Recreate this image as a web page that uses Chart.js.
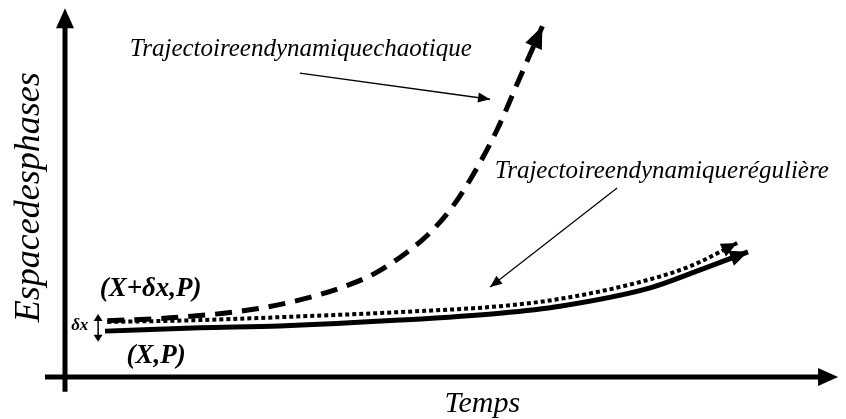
<!DOCTYPE html>
<html>
<head>
<meta charset="utf-8">
<script src="https://cdn.jsdelivr.net/npm/chart.js@4.4.1/dist/chart.umd.min.js"></script>
<style>
  body { margin: 0; background: #fff; }
  #wrap { width: 846px; height: 419px; position: relative; }
</style>
</head>
<body>
<div id="wrap"><canvas id="phaseChart"></canvas></div>
<script>
// Trajectories (time, phase space), abstract units 0..100
const solidTime   = [5.2, 17.5, 27.9, 43.5, 56.5, 64.3, 76.0, 82.5, 88.7];
const solidPhase  = [12.5, 13.4, 13.9, 15.5, 17.4, 19.3, 24.3, 29.2, 34.1];

const dottedTime  = [5.5, 17.5, 27.9, 43.5, 56.5, 64.3, 74.7, 81.2, 87.3];
const dottedPhase = [15.0, 15.5, 16.3, 17.7, 19.3, 21.3, 25.9, 30.2, 36.5];

const dashedTime  = [5.5, 14.9, 24.0, 30.5, 36.1, 40.3, 43.9, 47.1, 50.0, 52.6, 56.1, 59.1, 62.0];
const dashedPhase = [15.3, 16.3, 18.3, 21.0, 24.5, 28.3, 33.2, 38.7, 45.5, 53.7, 67.3, 81.7, 95.6];

// pointer arrows from the labels to the curves
const chaosPointerTime  = [30.5, 55.2];
const chaosPointerPhase = [82.8, 75.7];
const regPointerTime    = [71.7, 55.2];
const regPointerPhase   = [51.5, 24.5];

// axes extents
const timeAxisFrom = -2.6, timeAxisTo = 100.4;
const phaseAxisFrom = -4, phaseAxisTo = 100.5;

function pts(xs, ys) {
  return xs.map((x, i) => ({ x: x, y: ys[i] }));
}

// draw a filled triangle at (x, y) pointing along angle a
function arrowHead(ctx, x, y, a, len, half) {
  ctx.save();
  ctx.translate(x, y);
  ctx.rotate(a);
  ctx.beginPath();
  ctx.moveTo(0, 0);
  ctx.lineTo(-len, -half);
  ctx.lineTo(-len, half);
  ctx.closePath();
  ctx.fillStyle = '#000';
  ctx.fill();
  ctx.restore();
}

const decorations = {
  id: 'decorations',
  beforeDatasetsDraw(chart) {
    const ctx = chart.ctx;
    const xs = chart.scales.x, ys = chart.scales.y;
    const x0 = xs.getPixelForValue(0), y0 = ys.getPixelForValue(0);
    const xEnd = xs.getPixelForValue(timeAxisTo), yEnd = ys.getPixelForValue(phaseAxisTo);

    ctx.save();
    ctx.strokeStyle = '#000';
    ctx.lineWidth = 5;
    ctx.lineCap = 'butt';
    // horizontal axis
    ctx.beginPath();
    ctx.moveTo(xs.getPixelForValue(timeAxisFrom), y0);
    ctx.lineTo(xEnd - 15, y0);
    ctx.stroke();
    // vertical axis
    ctx.beginPath();
    ctx.moveTo(x0, ys.getPixelForValue(phaseAxisFrom));
    ctx.lineTo(x0, yEnd + 15);
    ctx.stroke();
    ctx.restore();
    arrowHead(ctx, xEnd, y0, 0, 20, 9);
    arrowHead(ctx, x0, yEnd, -Math.PI / 2, 20, 9);
  },
  afterDatasetsDraw(chart) {
    const ctx = chart.ctx;
    const xs = chart.scales.x, ys = chart.scales.y;

    // arrow heads at the end of each dataset
    chart.data.datasets.forEach((ds, i) => {
      if (!ds.head) return;
      const meta = chart.getDatasetMeta(i);
      const n = meta.data.length;
      const a = meta.data[n - 2], b = meta.data[n - 1];
      const ang = Math.atan2(b.y - a.y, b.x - a.x);
      arrowHead(ctx, b.x, b.y, ang, ds.head[0], ds.head[1]);
    });

    // delta-x double arrow
    const dx = xs.getPixelForValue(4.3);
    const dTop = ys.getPixelForValue(17.2), dBot = ys.getPixelForValue(9.6);
    ctx.save();
    ctx.strokeStyle = '#000';
    ctx.lineWidth = 1.5;
    ctx.beginPath();
    ctx.moveTo(dx, dTop + 5);
    ctx.lineTo(dx, dBot - 5);
    ctx.stroke();
    ctx.restore();
    arrowHead(ctx, dx, dTop, -Math.PI / 2, 7, 4.5);
    arrowHead(ctx, dx, dBot, Math.PI / 2, 7, 4.5);

    // texts
    const serif = '"Liberation Serif", "DejaVu Serif", serif';
    ctx.save();
    ctx.fillStyle = '#000';
    ctx.textBaseline = 'middle';
    ctx.textAlign = 'left';
    ctx.font = 'italic 25px ' + serif;
    ctx.fillText('Trajectoireendynamiquechaotique', xs.getPixelForValue(8.4), ys.getPixelForValue(89.2));
    ctx.fillText('Trajectoireendynamiquerégulière', xs.getPixelForValue(55.8), ys.getPixelForValue(56.0));

    ctx.font = 'italic bold 27px ' + serif;
    ctx.fillText('(X+δx,P)', xs.getPixelForValue(4.5), ys.getPixelForValue(24.0));
    ctx.fillText('(X,P)', xs.getPixelForValue(8.0), ys.getPixelForValue(5.7));

    ctx.font = 'italic bold 17px ' + serif;
    ctx.fillText('δx', xs.getPixelForValue(0.8), ys.getPixelForValue(14.1));

    ctx.textAlign = 'center';
    ctx.font = 'italic 30px ' + serif;
    ctx.fillText('Temps', xs.getPixelForValue(54.2), ys.getPixelForValue(-7.3));

    ctx.font = 'italic 36px ' + serif;
    ctx.translate(xs.getPixelForValue(-4.6), ys.getPixelForValue(49));
    ctx.rotate(-Math.PI / 2);
    ctx.fillText('Espacedesphases', 0, 0);
    ctx.restore();
  }
};

new Chart(document.getElementById('phaseChart'), {
  type: 'line',
  data: {
    datasets: [
      {
        label: 'Trajectoire chaotique',
        data: pts(dashedTime, dashedPhase),
        borderColor: '#000',
        borderWidth: 5,
        borderDash: [17, 10],
        cubicInterpolationMode: 'monotone',
        head: [22, 9]
      },
      {
        label: 'Trajectoire régulière (X+δx,P)',
        data: pts(dottedTime, dottedPhase),
        borderColor: '#000',
        borderWidth: 4,
        borderDash: [4, 3],
        cubicInterpolationMode: 'monotone',
        head: [16, 7]
      },
      {
        label: 'Trajectoire régulière (X,P)',
        data: pts(solidTime, solidPhase),
        borderColor: '#000',
        borderWidth: 5,
        cubicInterpolationMode: 'monotone',
        head: [18, 8]
      },
      {
        label: 'pointer chaos',
        data: pts(chaosPointerTime, chaosPointerPhase),
        borderColor: '#000',
        borderWidth: 1.5,
        head: [12, 5]
      },
      {
        label: 'pointer regular',
        data: pts(regPointerTime, regPointerPhase),
        borderColor: '#000',
        borderWidth: 1.2,
        head: [12, 5]
      }
    ]
  },
  options: {
    responsive: true,
    maintainAspectRatio: false,
    animation: false,
    clip: false,
    layout: { padding: { left: 65, right: 11, top: 10, bottom: 42 } },
    elements: { point: { radius: 0, hoverRadius: 0 } },
    plugins: { legend: { display: false }, tooltip: { enabled: false } },
    scales: {
      x: { type: 'linear', min: 0, max: 100, display: false },
      y: { type: 'linear', min: 0, max: 100, display: false }
    }
  },
  plugins: [decorations]
});
</script>
</body>
</html>
